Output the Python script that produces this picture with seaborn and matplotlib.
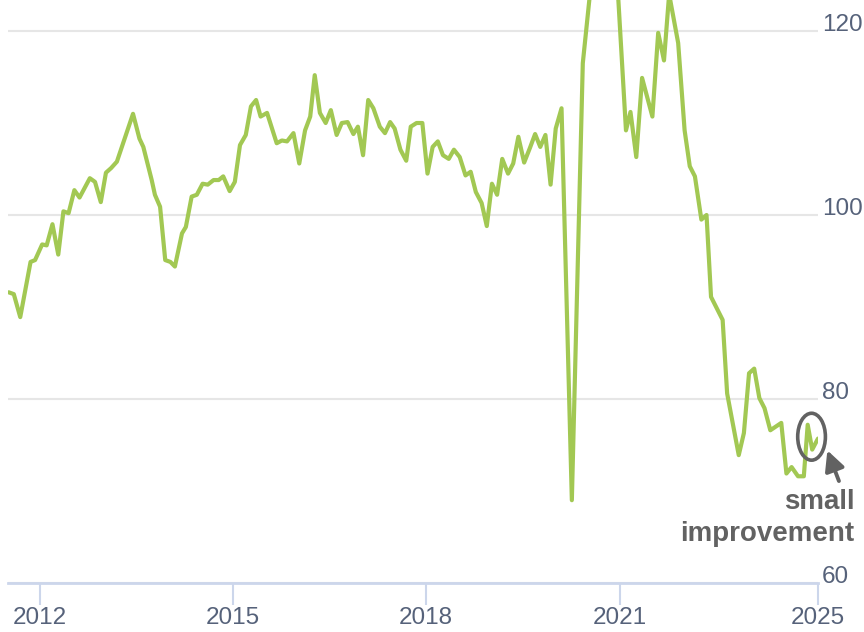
import matplotlib
matplotlib.use("Agg")
import matplotlib.pyplot as plt
from matplotlib.patches import Ellipse
import seaborn as sns

# fecha (años fraccionarios) y valor del índice
fechas = [2011.52, 2011.60, 2011.70, 2011.86, 2011.93, 2012.04, 2012.11, 2012.20, 2012.29, 2012.37,
          2012.45, 2012.54, 2012.62, 2012.78, 2012.86, 2012.95, 2013.03, 2013.11, 2013.20, 2013.45,
          2013.55, 2013.61, 2013.74, 2013.79, 2013.87, 2013.95, 2014.03, 2014.10, 2014.21, 2014.27,
          2014.36, 2014.44, 2014.53, 2014.61, 2014.70, 2014.78, 2014.85, 2014.95, 2015.03, 2015.11,
          2015.20, 2015.28, 2015.36, 2015.43, 2015.53, 2015.68, 2015.76, 2015.84, 2015.94, 2016.03,
          2016.12, 2016.20, 2016.27, 2016.35, 2016.44, 2016.52, 2016.61, 2016.69, 2016.78, 2016.87,
          2016.94, 2017.02, 2017.10, 2017.18, 2017.28, 2017.36, 2017.44, 2017.51, 2017.60, 2017.69,
          2017.76, 2017.85, 2017.94, 2018.02, 2018.10, 2018.18, 2018.26, 2018.35, 2018.43, 2018.52,
          2018.61, 2018.69, 2018.77, 2018.86, 2018.94, 2019.02, 2019.10, 2019.18, 2019.27, 2019.35,
          2019.43, 2019.52, 2019.61, 2019.69, 2019.77, 2019.85, 2019.93, 2020.01, 2020.10, 2020.26,
          2020.43, 2020.57, 2020.75, 2020.96, 2021.10, 2021.17, 2021.26, 2021.35, 2021.51, 2021.60,
          2021.69, 2021.77, 2021.91, 2022.01, 2022.09, 2022.17, 2022.27, 2022.35, 2022.42, 2022.60,
          2022.67, 2022.85, 2022.93, 2023.01, 2023.09, 2023.17, 2023.25, 2023.34, 2023.51, 2023.59,
          2023.67, 2023.77, 2023.86, 2023.92, 2023.99, 2024.08]
valores = [91.6, 91.4, 88.9, 94.9, 95.1, 96.8, 96.7, 99.0, 95.7, 100.4,
           100.2, 102.7, 101.9, 104.0, 103.6, 101.4, 104.6, 105.1, 105.8, 111.0,
           108.3, 107.4, 103.8, 102.2, 100.9, 95.1, 94.9, 94.4, 98.0, 98.7,
           102.0, 102.2, 103.4, 103.3, 103.8, 103.8, 104.2, 102.6, 103.6, 107.6,
           108.7, 111.8, 112.5, 110.7, 111.1, 107.8, 108.1, 108.0, 108.9, 105.6,
           109.2, 110.7, 115.2, 111.1, 110.0, 111.4, 108.7, 110.0, 110.1, 108.8,
           109.6, 106.5, 112.5, 111.6, 109.6, 108.9, 110.1, 109.4, 107.1, 105.9,
           109.6, 110.0, 110.0, 104.5, 107.4, 108.0, 106.5, 106.1, 107.1, 106.3,
           104.3, 104.7, 102.5, 101.3, 98.8, 103.4, 102.2, 106.1, 104.5, 105.6,
           108.5, 105.7, 107.3, 108.8, 107.4, 108.7, 103.3, 109.4, 111.6, 69.0,
           116.5, 126.0, 128.0, 126.0, 109.2, 111.2, 106.3, 114.9, 110.7, 119.8,
           116.8, 124.0, 118.7, 109.2, 105.3, 104.2, 99.5, 100.0, 91.1, 88.6,
           80.6, 73.9, 76.3, 82.8, 83.3, 80.1, 79.0, 76.6, 77.4, 71.9,
           72.6, 71.6, 71.6, 77.2, 74.5, 75.7]

anios_ticks = [2012, 2015, 2018, 2021]
etiquetas_x = ["2012", "2015", "2018", "2021", "2025"]
valores_y = [60, 80, 100, 120]

VERDE = "#a2c853"
GRIS_TEXTO = "#56627a"
GRIS_NOTA = "#626262"
AZUL_EJE = "#ccd6eb"

sns.set_theme(style="white")
plt.rcParams["font.family"] = ["Liberation Sans", "DejaVu Sans"]

fig = plt.figure(figsize=(8.64, 6.32), dpi=100)
ax = fig.add_axes([8 / 864, 49 / 632, 810 / 864, 583 / 632])

sns.lineplot(x=fechas, y=valores, ax=ax, color=VERDE, linewidth=3.0)

ax.set_xlim(2011.51, fechas[-1])
ax.set_ylim(60, 123.37)

ax.set_xticks(anios_ticks + [fechas[-1]])
ax.set_xticklabels(etiquetas_x)
ax.tick_params(axis="x", length=16, width=1.5, color=AZUL_EJE, pad=1,
               labelsize=17.5, labelcolor=GRIS_TEXTO, bottom=True)

ax.yaxis.tick_right()
ax.set_yticks(valores_y)
ax.set_yticklabels([str(v) for v in valores_y])
ax.tick_params(axis="y", length=0, pad=3, labelsize=17.5, labelcolor=GRIS_TEXTO)
for lbl in ax.get_yticklabels():
    lbl.set_va("baseline")

ax.yaxis.grid(True, color="#e6e6e6", linewidth=1.5)
ax.xaxis.grid(False)
for lado in ["top", "right", "left"]:
    ax.spines[lado].set_visible(False)
ax.spines["bottom"].set_color(AZUL_EJE)
ax.spines["bottom"].set_linewidth(2)
ax.set_xlabel("")
ax.set_ylabel("")

# anotación: círculo, flecha y texto
ax.add_patch(Ellipse((2023.98, 75.9), 0.43, 5.1, fill=False, edgecolor=GRIS_NOTA,
                     linewidth=2.6, clip_on=False, zorder=5))
ax.annotate("", xy=(2024.21, 74.7), xytext=(2024.42, 70.8),
            arrowprops=dict(arrowstyle="-|>", color=GRIS_NOTA, lw=2.8, mutation_scale=30),
            annotation_clip=False)
ax.text(2024.65, 70.2, "small\nimprovement", ha="right", va="top", multialignment="right",
        fontsize=20, fontweight="bold", color=GRIS_NOTA, linespacing=1.3, clip_on=False)

fig.savefig("out.png", dpi=100)
